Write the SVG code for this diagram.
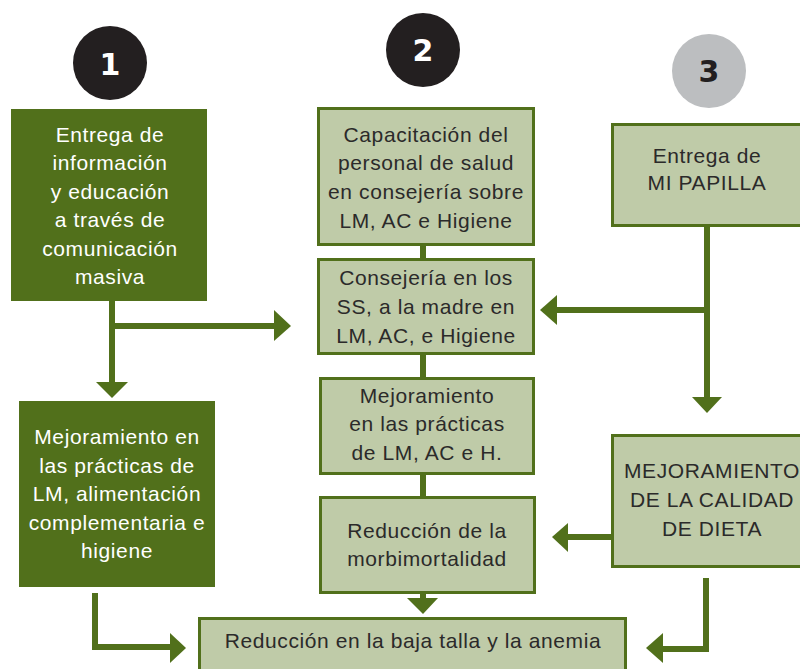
<svg xmlns="http://www.w3.org/2000/svg" width="800" height="669" viewBox="0 0 800 669">
<style>
.dk{fill:#51701b}
.lt{fill:#bfcba8;stroke:#51701b;stroke-width:3}
.tw{font-family:"Liberation Sans",Arial,sans-serif;font-size:21px;letter-spacing:0.6px;fill:#ffffff;text-anchor:middle}
.tb{font-family:"Liberation Sans",Arial,sans-serif;font-size:21px;letter-spacing:0.6px;fill:#2b2a2a;text-anchor:middle}
.num{font-family:"DejaVu Sans",sans-serif;font-size:30px;font-weight:bold;text-anchor:middle}
.ln{stroke:#51701b;stroke-width:6;fill:none}
.ah{fill:#51701b}
</style>
<rect width="800" height="669" fill="#ffffff"/>
<g id="badge1"><circle cx="110" cy="63" r="37" fill="#231f20"/><text class="num" x="110" y="75" fill="#ffffff">1</text></g>
<g id="badge2"><circle cx="423" cy="50" r="37" fill="#231f20"/><text class="num" x="423" y="61" fill="#ffffff">2</text></g>
<g id="badge3"><circle cx="709" cy="71" r="37" fill="#bcbec0"/><text class="num" x="709" y="82" fill="#231f20">3</text></g>

<g id="connectors">
<path class="ln" d="M112 301V384"/><polygon class="ah" points="96,382 128,382 112,398"/>
<path class="ln" d="M112 326H276"/><polygon class="ah" points="274,310 274,341 291,326"/>
<path class="ln" d="M95 593V647H172"/><polygon class="ah" points="170,633 170,663 186,648"/>
<path class="ln" d="M423 246V260M423 354V378M423 474V497M423 593V600"/><polygon class="ah" points="407,598 438,598 423,614"/>
<path class="ln" d="M707 226V399"/><polygon class="ah" points="692,397 722,397 707,413"/>
<path class="ln" d="M707 310H555"/><polygon class="ah" points="557,295 557,325 540,310"/>
<path class="ln" d="M611 537H566"/><polygon class="ah" points="568,523 568,552 552,537"/>
<path class="ln" d="M706 578V649H661"/><polygon class="ah" points="663,633 663,663 646,648"/>
</g>

<g id="n1"><rect class="dk" x="11" y="109" width="196" height="192"/>
<text class="tw" x="110" y="142">Entrega de</text>
<text class="tw" x="110" y="170">información</text>
<text class="tw" x="110" y="199">y educación</text>
<text class="tw" x="110" y="227">a través de</text>
<text class="tw" x="110" y="256">comunicación</text>
<text class="tw" x="110" y="284">masiva</text></g>

<g id="n4"><rect class="dk" x="19" y="401" width="196" height="186"/>
<text class="tw" x="117" y="444">Mejoramiento en</text>
<text class="tw" x="117" y="473">las prácticas de</text>
<text class="tw" x="117" y="501">LM, alimentación</text>
<text class="tw" x="117" y="530">complementaria e</text>
<text class="tw" x="117" y="558">higiene</text></g>

<g id="n2"><rect class="lt" x="318.5" y="108.5" width="215" height="136"/>
<text class="tb" x="426" y="142">Capacitación del</text>
<text class="tb" x="426" y="170">personal de salud</text>
<text class="tb" x="426" y="199">en consejería sobre</text>
<text class="tb" x="426" y="228">LM, AC e Higiene</text></g>

<g id="n5"><rect class="lt" x="318.5" y="259.5" width="215" height="94"/>
<text class="tb" x="426" y="285">Consejería en los</text>
<text class="tb" x="426" y="314">SS, a la madre en</text>
<text class="tb" x="426" y="343">LM, AC, e Higiene</text></g>

<g id="n6"><rect class="lt" x="320.5" y="378.5" width="213" height="95"/>
<text class="tb" x="427" y="403">Mejoramiento</text>
<text class="tb" x="427" y="431">en las prácticas</text>
<text class="tb" x="427" y="460">de LM, AC e H.</text></g>

<g id="n7"><rect class="lt" x="320.5" y="497.5" width="214" height="95"/>
<text class="tb" x="427" y="538">Reducción de la</text>
<text class="tb" x="427" y="566">morbimortalidad</text></g>

<g id="n3"><rect class="lt" x="612.5" y="124.5" width="192" height="101"/>
<text class="tb" x="707" y="163">Entrega de</text>
<text class="tb" x="707" y="190">MI PAPILLA</text></g>

<g id="n8"><rect class="lt" x="612.5" y="435.5" width="200" height="131"/>
<text class="tb" x="712" y="478">MEJORAMIENTO</text>
<text class="tb" x="712" y="507">DE LA CALIDAD</text>
<text class="tb" x="712" y="536">DE DIETA</text></g>

<g id="n9"><rect class="lt" x="199.5" y="618.5" width="426" height="60"/>
<text class="tb" x="413" y="648">Reducción en la baja talla y la anemia</text></g>
</svg>
